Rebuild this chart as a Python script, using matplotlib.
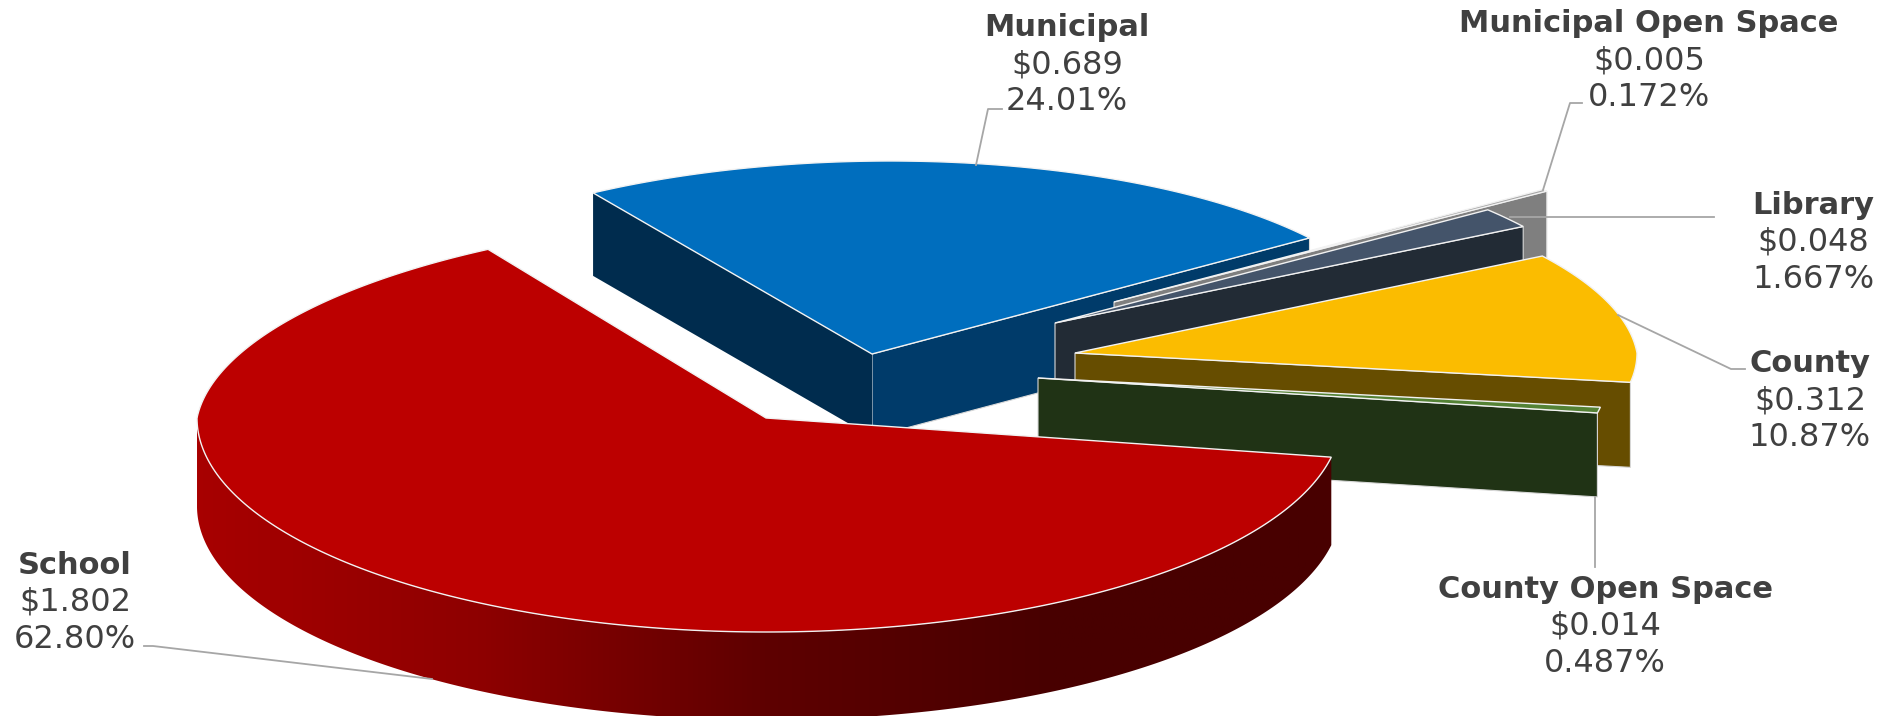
import numpy as np
import matplotlib
matplotlib.use("Agg")
from matplotlib import pyplot as plt
from matplotlib.colors import LinearSegmentedColormap
from matplotlib.patches import Polygon

plt.rcParams['font.family'] = ['DejaVu Sans']

# data, clockwise from the top
categories = ["Municipal", "Municipal Open Space", "Library", "County", "County Open Space", "School"]
dollars = [0.689, 0.005, 0.048, 0.312, 0.014, 1.802]
percents = [24.01, 0.172, 1.667, 10.87, 0.487, 62.80]
percent_labels = ["24.01%", "0.172%", "1.667%", "10.87%", "0.487%", "62.80%"]

# colours
face_colors = ["#006EBE", "#A5A5A5", "#44546A", "#FBBC00", "#548235", "#BC0000"]
wall_colors = ["#003B6A", "#7F7F7F", "#222B35", "#664D00", "#203315", "#BC0000"]
text_color = "#404040"
line_color = "#A6A6A6"

# fake 3d layout, in pixels
start_angle = 123.4
apex_x = [872, 1114, 1055, 1075, 1038, 766]
apex_y = [354, 302, 323, 353, 378, 418]
radius_x_left = [534, 563, 563, 562, 569, 569]
radius_x_right = [534, 563, 563, 562, 569, 575]
radius_y_back = [193, 187, 191, 192, 191, 202]
radius_y_front = [193, 187, 191, 192, 191, 214]
shear = [18, -35, -35, -35, -35, 42]
depth = [83, 80, 80, 85, 84, 88]

# label centres and leader lines
label_x = [1067, 1649, 1813, 1810, 1605, 75]
label_y = [28, 24, 205, 364, 589, 565]
line_gap = 37
leaders = [
    [(976, 165), (988, 109), (1002, 109)],
    [(1543, 190), (1570, 103), (1582, 103)],
    [(1510, 217), (1714, 217)],
    [(1618, 315), (1731, 369), (1745, 369)],
    [(1595, 497), (1595, 567)],
    [(432, 679), (153, 646), (144, 646)],
]


def rim(i, angles):
    t = np.radians(angles)
    s = np.sin(t)
    c = np.cos(t)
    rx = np.where(c > 0, radius_x_right[i], radius_x_left[i])
    x = apex_x[i] + rx * c + shear[i] * np.clip(s, 0, None)
    y = apex_y[i] - np.where(s > 0, radius_y_back[i], radius_y_front[i]) * s
    return np.column_stack([x, y])


def wall_poly(top, d):
    return np.vstack([top, (top + [0, d])[::-1]])


fig = plt.figure(figsize=(18.81, 7.16), dpi=100)
ax = fig.add_axes([0, 0, 1, 1])

angle = start_angle
for i in range(len(categories)):
    hi = angle
    lo = angle - 360 * percents[i] / 100
    angle = lo
    z = 10 * (i + 1)
    apex = np.array([[apex_x[i], apex_y[i]]], dtype=float)
    arc = rim(i, np.linspace(hi, lo, 300))

    # outer wall of the big slice, with its shading
    if categories[i] == "School":
        ts = np.linspace(hi, lo, 600)
        ts = ts[np.sin(np.radians(ts)) <= 0]
        poly = wall_poly(rim(i, ts), depth[i])
        cmap = LinearSegmentedColormap.from_list(
            "red_wall", ["#A80000", "#8E0000", "#5E0000", "#480000", "#480000"])
        img = ax.imshow(np.linspace(0, 1, 512)[None, :], cmap=cmap, aspect="auto",
                        extent=[190, 1340, 730, 400], zorder=z)
        clip = Polygon(poly, closed=True, transform=ax.transData, fill=False, edgecolor="none")
        ax.add_patch(clip)
        img.set_clip_path(clip)

    # flat walls along the cut edges
    if np.cos(np.radians(lo)) > 0:
        top = np.vstack([apex, rim(i, np.array([lo]))])
        ax.add_patch(Polygon(wall_poly(top, depth[i]), closed=True, facecolor=wall_colors[i],
                             edgecolor="#D9D9D9", linewidth=0.8, zorder=z + 1))
    if np.cos(np.radians(hi)) < 0:
        top = np.vstack([apex, rim(i, np.array([hi]))])
        ax.add_patch(Polygon(wall_poly(top, depth[i]), closed=True, facecolor="#002C4E",
                             edgecolor="none", zorder=z + 1))

    # top of the slice
    ax.add_patch(Polygon(np.vstack([apex, arc]), closed=True, facecolor=face_colors[i],
                         edgecolor="#F2F2F2", linewidth=1.0, zorder=z + 2))

for pts in leaders:
    xs, ys = zip(*pts)
    ax.plot(xs, ys, color=line_color, linewidth=1.3, zorder=100)

for i, name in enumerate(categories):
    ax.text(label_x[i], label_y[i], name, ha="center", va="center", fontsize=22,
            fontweight="bold", color=text_color, zorder=110)
    ax.text(label_x[i], label_y[i] + line_gap, f"${dollars[i]:.3f}", ha="center", va="center",
            fontsize=23, color=text_color, zorder=110)
    ax.text(label_x[i], label_y[i] + 2 * line_gap, percent_labels[i], ha="center", va="center",
            fontsize=23, color=text_color, zorder=110)

ax.set_xlim(0, 1881)
ax.set_ylim(716, 0)
ax.axis("off")
fig.savefig("out.png", dpi=100, facecolor="white")
